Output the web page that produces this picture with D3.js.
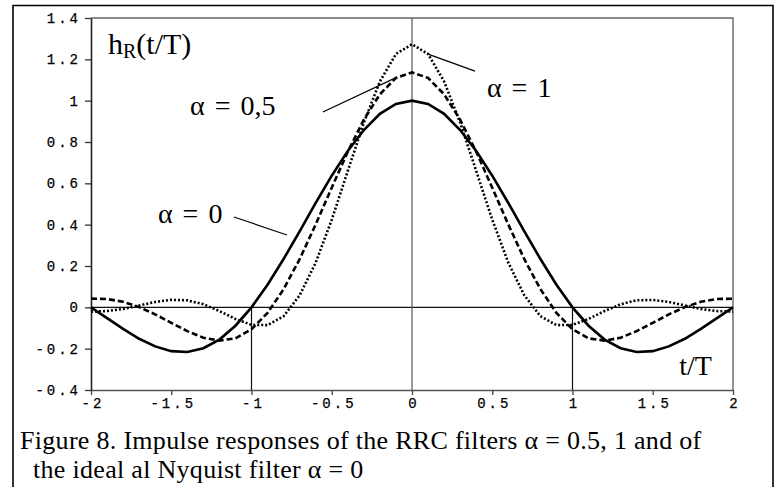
<!DOCTYPE html>
<html>
<head>
<meta charset="utf-8">
<script src="https://cdn.jsdelivr.net/npm/d3@7"></script>
<style>
  body { margin: 0; background: #fff; }
  svg { display: block; }
</style>
</head>
<body>
<div id="chart"></div>
<script>
// t/T sample points
const tValues = [-2, -1.9, -1.8, -1.7, -1.6, -1.5, -1.4, -1.3, -1.2, -1.1, -1,
  -0.9, -0.8, -0.7, -0.6, -0.5, -0.4, -0.3, -0.2, -0.1, 0,
  0.1, 0.2, 0.3, 0.4, 0.5, 0.6, 0.7, 0.8, 0.9, 1,
  1.1, 1.2, 1.3, 1.4, 1.5, 1.6, 1.7, 1.8, 1.9, 2];

// alpha = 0 (ideal Nyquist), solid
const alpha0 = [0, -0.052, -0.104, -0.152, -0.189, -0.212, -0.216, -0.198, -0.156, -0.089, 0,
  0.109, 0.234, 0.368, 0.505, 0.637, 0.757, 0.858, 0.936, 0.984, 1,
  0.984, 0.936, 0.858, 0.757, 0.637, 0.505, 0.368, 0.234, 0.109, 0,
  -0.089, -0.156, -0.198, -0.216, -0.212, -0.189, -0.152, -0.104, -0.052, 0];

// alpha = 0.5, dashed
const alpha05 = [0.042, 0.040, 0.027, 0.001, -0.034, -0.075, -0.115, -0.147, -0.161, -0.150, -0.106,
  -0.027, 0.088, 0.233, 0.401, 0.579, 0.753, 0.908, 1.031, 1.110, 1.137,
  1.110, 1.031, 0.908, 0.753, 0.579, 0.401, 0.233, 0.088, -0.027, -0.106,
  -0.150, -0.161, -0.147, -0.115, -0.075, -0.034, 0.001, 0.027, 0.040, 0.042];

// alpha = 1, dotted
const alpha1 = [-0.021, -0.018, -0.008, 0.009, 0.026, 0.036, 0.034, 0.015, -0.018, -0.056, -0.085,
  -0.086, -0.043, 0.058, 0.216, 0.424, 0.660, 0.894, 1.093, 1.226, 1.273,
  1.226, 1.093, 0.894, 0.660, 0.424, 0.216, 0.058, -0.043, -0.086, -0.085,
  -0.056, -0.018, 0.015, 0.034, 0.036, 0.026, 0.009, -0.008, -0.018, -0.021];

const xTicks = [-2, -1.5, -1, -0.5, 0, 0.5, 1, 1.5, 2];
const xTickLabels = ["-2", "-1.5", "-1", "-0.5", "0", "0.5", "1", "1.5", "2"];
const yTicks = [-0.4, -0.2, 0, 0.2, 0.4, 0.6, 0.8, 1, 1.2, 1.4];
const yTickLabels = ["-0.4", "-0.2", "0", "0.2", "0.4", "0.6", "0.8", "1", "1.2", "1.4"];

const width = 782, height = 487;
const margin = {top: 18, right: 49, bottom: 97, left: 91};

const svg = d3.select("#chart").append("svg")
  .attr("width", width)
  .attr("height", height);

// outer frame (bottom runs off the picture)
svg.append("path")
  .attr("d", `M13,${height + 5}V5.5H773V${height + 5}`)
  .attr("fill", "none")
  .attr("stroke", "#000")
  .attr("stroke-width", 1.6);

const x = d3.scaleLinear().domain([-2, 2]).range([margin.left, width - margin.right]);
const y = d3.scaleLinear().domain([-0.4, 1.4]).range([height - margin.bottom, margin.top]);

// plot box top and right
svg.append("path")
  .attr("d", `M${x(-2)},${y(1.4)}H${x(2)}V${y(-0.4)}`)
  .attr("fill", "none")
  .attr("stroke", "#666")
  .attr("stroke-width", 1.4);

// reference lines
svg.append("line")
  .attr("x1", x(-2)).attr("x2", x(2))
  .attr("y1", y(0)).attr("y2", y(0))
  .attr("stroke", "#111").attr("stroke-width", 1.2);
svg.append("line")
  .attr("x1", x(0)).attr("x2", x(0))
  .attr("y1", y(1.4)).attr("y2", y(-0.4))
  .attr("stroke", "#555").attr("stroke-width", 1.2);
svg.selectAll(".vline")
  .data([-1, 1])
  .join("line")
  .attr("x1", d => x(d)).attr("x2", d => x(d))
  .attr("y1", y(0)).attr("y2", y(-0.4))
  .attr("stroke", "#111").attr("stroke-width", 1.2);

// axes
const tickFont = "'Liberation Mono', 'Courier New', monospace";
const xAxis = svg.append("g")
  .attr("transform", `translate(0,${y(-0.4)})`)
  .call(d3.axisBottom(x).tickValues(xTicks).tickSize(5).tickSizeOuter(0)
    .tickFormat((d, i) => xTickLabels[i]));
xAxis.select(".domain").attr("stroke", "#555").attr("stroke-width", 1.4);
xAxis.selectAll(".tick line").attr("stroke", "#444").attr("stroke-width", 1.3);
xAxis.selectAll("text")
  .attr("y", 8)
  .attr("dx", "1.5px")
  .attr("fill", "#000")
  .attr("stroke", "#000").attr("stroke-width", 0.25)
  .style("font-family", tickFont)
  .style("font-size", "14px")
  .style("letter-spacing", "3px");

const yAxis = svg.append("g")
  .attr("transform", `translate(${x(-2)},0)`)
  .call(d3.axisLeft(y).tickValues(yTicks).tickSize(6).tickSizeOuter(0)
    .tickFormat((d, i) => yTickLabels[i]));
yAxis.select(".domain").attr("stroke", "#222").attr("stroke-width", 1.6);
yAxis.selectAll(".tick line").attr("stroke", "#333").attr("stroke-width", 1.3);
yAxis.selectAll("text")
  .attr("x", -10)
  .attr("fill", "#000")
  .attr("stroke", "#000").attr("stroke-width", 0.25)
  .style("font-family", tickFont)
  .style("font-size", "14px")
  .style("letter-spacing", "3px");

// curves
const series = [
  {values: alpha0, dash: null},
  {values: alpha05, dash: "6,3"},
  {values: alpha1, dash: "2,2"}
];
const line = d3.line()
  .x((d, i) => x(tValues[i]))
  .y(d => y(d));

svg.append("g")
  .selectAll("path")
  .data(series)
  .join("path")
  .attr("d", d => line(d.values))
  .attr("fill", "none")
  .attr("stroke", "#000")
  .attr("stroke-width", 2.6)
  .attr("stroke-dasharray", d => d.dash);

// leader lines (in data units)
const leaders = [
  [[-0.555, 0.945], [-0.093, 1.114]],
  [[0.10, 1.225], [0.393, 1.143]],
  [[-1.109, 0.437], [-0.779, 0.350]]
];
svg.append("g")
  .selectAll("line")
  .data(leaders)
  .join("line")
  .attr("x1", d => x(d[0][0])).attr("y1", d => y(d[0][1]))
  .attr("x2", d => x(d[1][0])).attr("y2", d => y(d[1][1]))
  .attr("stroke", "#000").attr("stroke-width", 1.2);

// labels
const serif = "'Liberation Serif', 'Times New Roman', serif";
const hLabel = svg.append("text")
  .attr("x", x(-1.894)).attr("y", y(1.226))
  .style("font-family", serif).style("font-size", "30px");
hLabel.append("tspan").text("h");
hLabel.append("tspan").attr("dy", 4).style("font-size", "20px").text("R");
hLabel.append("tspan").attr("dy", -4).text("(t/T)");

const alphaLabels = [
  {t: -1.383, v: 0.930, text: "α = 0,5"},
  {t: 0.467, v: 1.017, text: "α = 1"},
  {t: -1.583, v: 0.408, text: "α = 0"}
];
svg.append("g")
  .selectAll("text")
  .data(alphaLabels)
  .join("text")
  .attr("x", d => x(d.t)).attr("y", d => y(d.v))
  .style("font-family", serif).style("font-size", "28px")
  .style("word-spacing", "3px")
  .text(d => d.text);

svg.append("text")
  .attr("x", x(1.869)).attr("y", y(-0.328))
  .attr("text-anchor", "end")
  .style("font-family", serif).style("font-size", "28px")
  .text("t/T");

// caption
const caption = svg.append("g")
  .style("font-family", serif).style("font-size", "26px")
  .style("letter-spacing", "0.3px");
caption.append("text").attr("x", 20).attr("y", 449)
  .text("Figure 8. Impulse responses of the RRC filters α = 0.5, 1 and of");
caption.append("text").attr("x", 33).attr("y", 478)
  .text("the ideal al Nyquist filter α = 0");
</script>
</body>
</html>
